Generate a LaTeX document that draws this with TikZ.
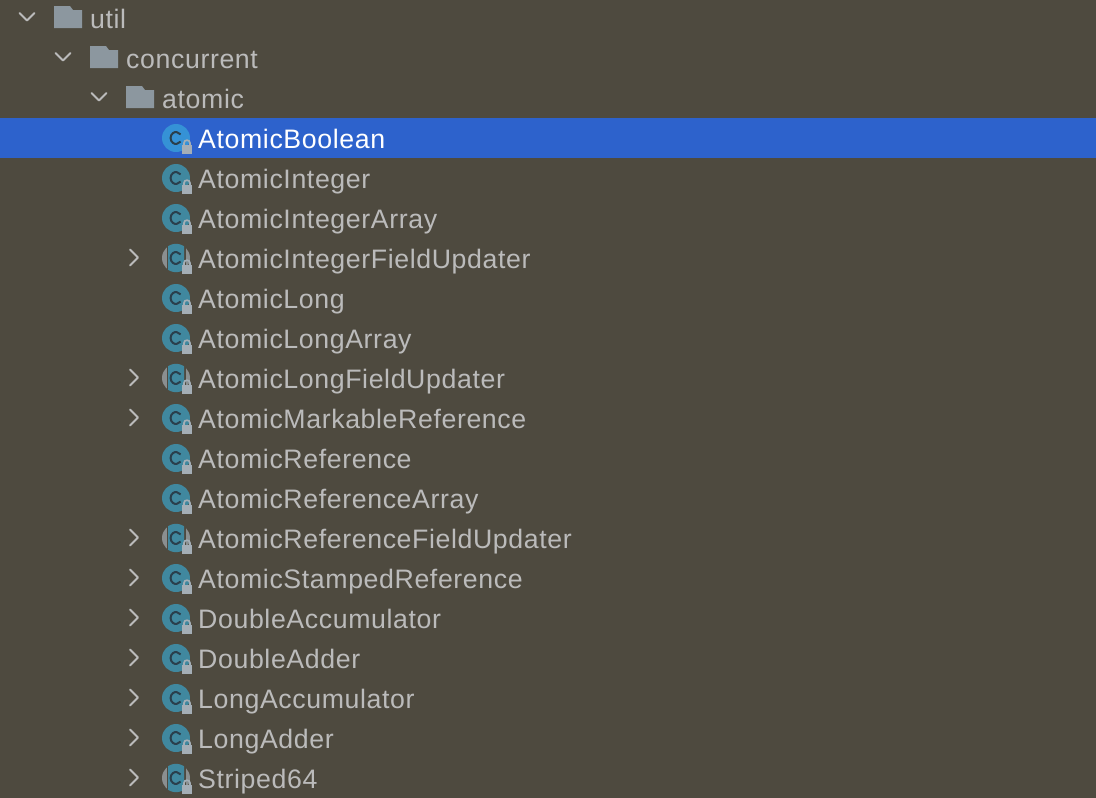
\documentclass[tikz,border=0pt]{standalone}
\usepackage{fontspec}
\setmainfont[LetterSpace=2.3]{Liberation Sans}
\definecolor{bgc}{HTML}{4E4A3F}
\definecolor{selc}{HTML}{2D62CC}
\definecolor{txtc}{HTML}{BBBBBB}
\definecolor{foldc}{HTML}{8C979F}
\definecolor{tealc}{HTML}{40889F}
\definecolor{bluec}{HTML}{3592D6}
\definecolor{inkc}{HTML}{2A3F4C}
\definecolor{lockc}{HTML}{A4AEB6}
\definecolor{grayc}{HTML}{8A8F90}
\tikzset{
 x=1pt,y=-1pt,
 label/.style={anchor=base west,inner sep=0pt,text=txtc,font=\fontsize{26.7}{30}\selectfont},
 chev/.style={draw=#1,line width=1.9pt,line cap=round,line join=round},
 chev/.default=txtc
}
\newcommand{\folder}[2]{% x, y centre
 \fill[foldc,shift={(#1,#2)}] (-14,-13) -- (2,-13) -- (5,-9) -- (14,-9) -- (14,9) -- (-14,9) -- cycle;}
\newcommand{\down}[2]{\draw[chev,shift={(#1,#2)}] (-7.5,-3) -- (0,4.5) -- (7.5,-3);}
\newcommand{\rightch}[1]{\draw[chev,shift={(134,#1)}] (-4,-9.5) -- (4,-1.5) -- (-4,6.5);}
\newcommand{\icon}[3]{% y, colour, abstract flag
 \begin{scope}[shift={(176,#1)}]
 \ifnum#3=1
  \fill[grayc] (0,-1) circle (14);
  \fill[bgc] (-9.5,-15) rectangle (9.5,13);
  \begin{scope}\clip (-8,-16) rectangle (8,14);
  \fill[#2] (0,-1) circle (14.2);\end{scope}
 \else
  \fill[#2] (0,-1) circle (14);
 \fi
 \draw[inkc,line width=2pt] (4.6,-4.6) .. controls (2.8,-7) and (-1,-7.6) .. (-3,-6) .. controls (-6.2,-3.5) and (-6.2,1.5) .. (-3,4) .. controls (-1,5.6) and (2.8,5) .. (4.6,2.6);
 \fill[lockc] (6,6) rectangle (16,15);
 \draw[lockc,line width=1.7pt] (8,6) -- (8,4) .. controls (8,0.3) and (14,0.3) .. (14,4) -- (14,6);
 \end{scope}}
\newcommand{\row}[4]{% name, y, text, abstract
 \icon{#2}{tealc}{#4}
 \node[label] (#1) at (198,#2+9) {#3};}
\begin{document}
\begin{tikzpicture}
\useasboundingbox (0,0) rectangle (1096,798);
\fill[bgc] (0,0) rectangle (1096,798);
\fill[selc] (0,118) rectangle (1096,158);
\down{27}{16}\folder{68}{19}
\node[label] (util) at (90,28) {util};
\down{63}{56}\folder{104}{59}
\node[label] (concurrent) at (126,68) {concurrent};
\down{99}{96}\folder{140}{99}
\node[label] (atomic) at (162,108) {atomic};
\icon{139}{bluec}{0}
\node[label,text=white] (boolean) at (198,148) {AtomicBoolean};
\row{integer}{179}{AtomicInteger}{0}
\row{integerarray}{219}{AtomicIntegerArray}{0}
\rightch{259}\row{integerfu}{259}{AtomicIntegerFieldUpdater}{1}
\row{long}{299}{AtomicLong}{0}
\row{longarray}{339}{AtomicLongArray}{0}
\rightch{379}\row{longfu}{379}{AtomicLongFieldUpdater}{1}
\rightch{419}\row{markable}{419}{AtomicMarkableReference}{0}
\row{reference}{459}{AtomicReference}{0}
\row{referencearray}{499}{AtomicReferenceArray}{0}
\rightch{539}\row{referencefu}{539}{AtomicReferenceFieldUpdater}{1}
\rightch{579}\row{stamped}{579}{AtomicStampedReference}{0}
\rightch{619}\row{dacc}{619}{DoubleAccumulator}{0}
\rightch{659}\row{dadd}{659}{DoubleAdder}{0}
\rightch{699}\row{lacc}{699}{LongAccumulator}{0}
\rightch{739}\row{ladd}{739}{LongAdder}{0}
\rightch{779}\row{striped}{779}{Striped64}{1}
\end{tikzpicture}
\end{document}
